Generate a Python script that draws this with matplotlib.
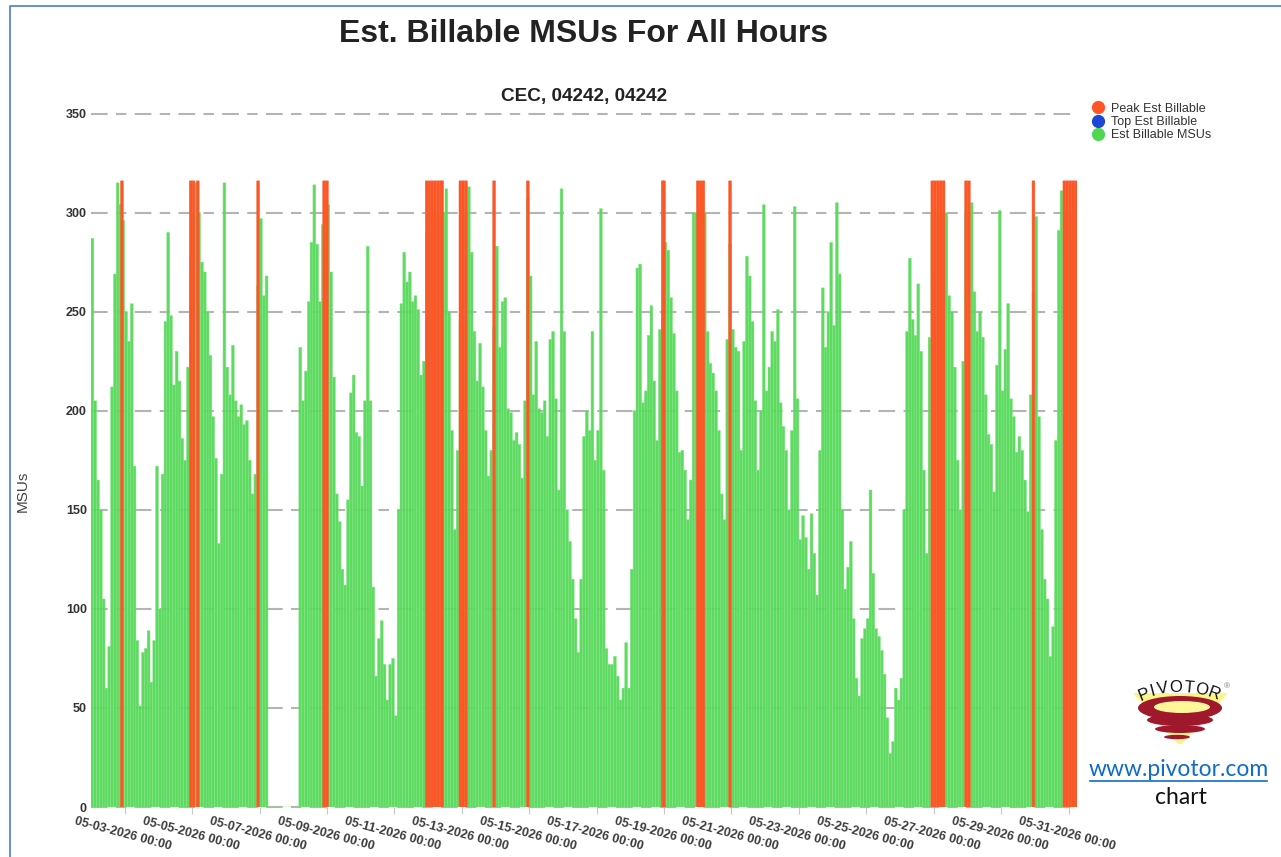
import numpy as np
import matplotlib
matplotlib.use('Agg')
import matplotlib.pyplot as plt
from matplotlib.lines import Line2D
from matplotlib.patches import Ellipse, Polygon

# Est billable MSUs, one value per 2 hour slot starting 05-02 00:00 (0 = no data)
msus = [
    287,205,165,150,105,60,81,212,269,315,
    304,296,250,235,254,172,84,51,78,80,
    89,63,84,172,100,168,245,290,248,213,
    230,215,186,175,222,278,300,315,300,275,
    270,250,228,197,176,133,168,315,222,208,
    233,205,197,203,193,195,175,158,168,263,
    297,258,268,0,0,0,0,0,0,0,
    0,0,0,0,232,205,220,255,285,314,
    284,255,294,305,304,270,217,158,144,120,
    112,155,209,218,189,187,162,205,283,205,
    111,66,85,94,72,54,72,75,46,150,
    254,280,265,270,255,258,251,218,225,290,
    300,300,300,300,300,300,312,250,190,140,
    180,245,300,300,313,280,240,215,234,212,
    190,167,180,242,283,232,255,257,201,199,
    185,189,183,166,205,307,268,208,235,201,
    199,205,187,236,240,206,160,312,240,150,
    134,115,95,78,115,187,200,190,240,
    175,190,302,170,80,72,72,76,66,54,
    60,83,60,120,200,272,274,204,210,238,
    253,215,185,241,250,285,281,257,239,210,
    179,180,170,145,165,300,300,300,300,300,
    240,224,219,210,190,158,145,236,284,241,
    232,230,180,235,278,268,245,205,170,200,
    304,210,222,240,235,251,204,192,180,150,
    190,303,206,135,147,136,120,148,128,107,
    180,262,232,250,285,243,305,269,150,110,
    121,134,95,65,56,85,90,95,160,118,
    90,86,79,67,45,27,33,60,54,65,
    150,240,277,246,238,264,230,170,128,237,
    300,300,300,300,300,300,258,250,222,175,
    150,225,300,300,305,260,240,250,237,208,
    188,183,159,223,301,210,231,254,206,197,
    179,187,180,165,149,208,259,298,197,140,
    115,105,76,91,185,291,311,300,300,300,
    300,300,
]
# hours (since 05-02 00:00) where the 2 hour peak bars start
peak_hours = [21, 70, 72, 75, 118, 165, 167,
              238, 240, 242, 244, 246, 248, 249,
              262, 264, 266, 286, 310, 406, 407,
              431, 433, 435, 454,
              598, 600, 602, 604, 606, 622, 624, 670,
              692, 694, 696, 698, 700]
peak_value = 316

tick_hours = list(range(24, 697, 48))
tick_labels = ['05-03-2026 00:00', '05-05-2026 00:00', '05-07-2026 00:00', '05-09-2026 00:00',
               '05-11-2026 00:00', '05-13-2026 00:00', '05-15-2026 00:00', '05-17-2026 00:00',
               '05-19-2026 00:00', '05-21-2026 00:00', '05-23-2026 00:00', '05-25-2026 00:00',
               '05-27-2026 00:00', '05-29-2026 00:00', '05-31-2026 00:00']
y_ticks = [0, 50, 100, 150, 200, 250, 300, 350]
legend_names = ['Peak Est Billable', 'Top Est Billable', 'Est Billable MSUs']
legend_colors = ['#ff5424', '#1d46d6', '#4fd84f']

W, H = 1281, 857
plt.rcParams['font.family'] = ['Liberation Sans', 'DejaVu Sans']
fig = plt.figure(figsize=(W / 100, H / 100), dpi=100)

ax = fig.add_axes([91 / W, 1 - 807 / H, 986 / W, 693.5 / H])
hours = np.arange(len(msus)) * 2
bars = ax.bar(hours, msus, width=2, align='edge', color='#53d856', alpha=0.94, zorder=2,
              edgecolor='#86e488', linewidth=0.35)
for b in bars:
    b.set_snap(False)
reds = ax.bar(peak_hours, [peak_value] * len(peak_hours), width=2, align='edge',
              color='#ff5424', zorder=3, edgecolor='#f0673a', linewidth=0.35)
for b in reds:
    b.set_snap(False)
ax.set_xlim(0, 702)
ax.set_ylim(0, 350)
ax.set_yticks(y_ticks)
ax.set_xticks(tick_hours)
ax.set_xticklabels(tick_labels, rotation=-15, ha='center', fontsize=9, fontweight='bold',
                   color='#3c3c3c', rotation_mode='anchor')
ax.tick_params(axis='x', length=5, color='#c8c8c8', pad=10)
ax.tick_params(axis='y', length=0, pad=3, labelsize=9, labelcolor='#333333')
for t in ax.get_yticklabels():
    t.set_fontweight('bold')
ax.grid(axis='y', color='#b4b4b4', linewidth=1.5, linestyle=(0, (8, 4, 5, 4)), zorder=1, clip_on=False)
ax.set_axisbelow(True)
for s in ax.spines.values():
    s.set_visible(False)

# overlay in pixel coordinates for titles, legend, frame and logo
ov = fig.add_axes([0, 0, 1, 1], facecolor='none')
ov.set_xlim(0, W)
ov.set_ylim(H, 0)
ov.axis('off')
ov.plot([10, 10, W], [H, 6, 6], color='#4a7fc4', linewidth=1.2)

ov.text(583.5, 34, 'Est. Billable MSUs For All Hours', ha='center', va='center', fontsize=23,
        fontweight='bold', color='#222222')
ov.text(584, 96, 'CEC, 04242, 04242', ha='center', va='center', fontsize=13.7, fontweight='bold',
        color='#222222')
ov.text(23, 491, 'MSUs', rotation=90, ha='center', va='center', fontsize=11, color='#444444')

leg = ov.legend(handles=[Line2D([], [], marker='o', linestyle='', markersize=8.5, color=c, label=n)
                         for n, c in zip(legend_names, legend_colors)],
                loc='upper left', bbox_to_anchor=(1085 / W, 1 - 102.5 / H), frameon=False, fontsize=9,
                labelspacing=0.12, handletextpad=0.1, borderpad=0, borderaxespad=0, labelcolor='#333333')

# pivotor logo
ov.add_patch(Polygon([[1133, 693], [1228, 693], [1182, 744], [1178, 744]], closed=True,
                     facecolor='#fdf58a', edgecolor='none'))
for cx, cy, rx, ry in [(1180, 708, 42, 12), (1180, 720, 33, 6), (1180, 729, 25, 4), (1177, 737, 13, 2.2)]:
    ov.add_patch(Ellipse((cx, cy), rx * 2, ry * 2, facecolor='#a0182c', edgecolor='none'))
ov.add_patch(Ellipse((1182, 707), 56, 12, facecolor='#fff79a', edgecolor='none'))
logo_letters = ['P', 'I', 'V', 'O', 'T', 'O', 'R']
logo_x = [1144, 1153, 1163, 1176, 1189, 1201, 1214]
logo_y = [695, 691.5, 689, 688, 688, 690, 694]
logo_rot = [22, 15, 9, 0, -5, -12, -20]
for ch, lx, ly, r in zip(logo_letters, logo_x, logo_y, logo_rot):
    ov.text(lx, ly, ch, ha='center', va='center', rotation=r, fontsize=12, color='#111111')
ov.text(1227, 687, '\u00ae', ha='center', va='center', fontsize=6, color='#777777')

ov.text(1178.5, 770, 'www.pivotor.com', ha='center', va='center', fontsize=16.5,
        family=['Lato', 'DejaVu Sans'], color='#0f6cc8')
ov.plot([1090, 1267], [781, 781], color='#0f6cc8', linewidth=1.2)
ov.text(1181, 798, 'chart', ha='center', va='center', fontsize=16.5, family=['Lato', 'DejaVu Sans'],
        color='#111111')

plt.savefig('out.png', dpi=100)
